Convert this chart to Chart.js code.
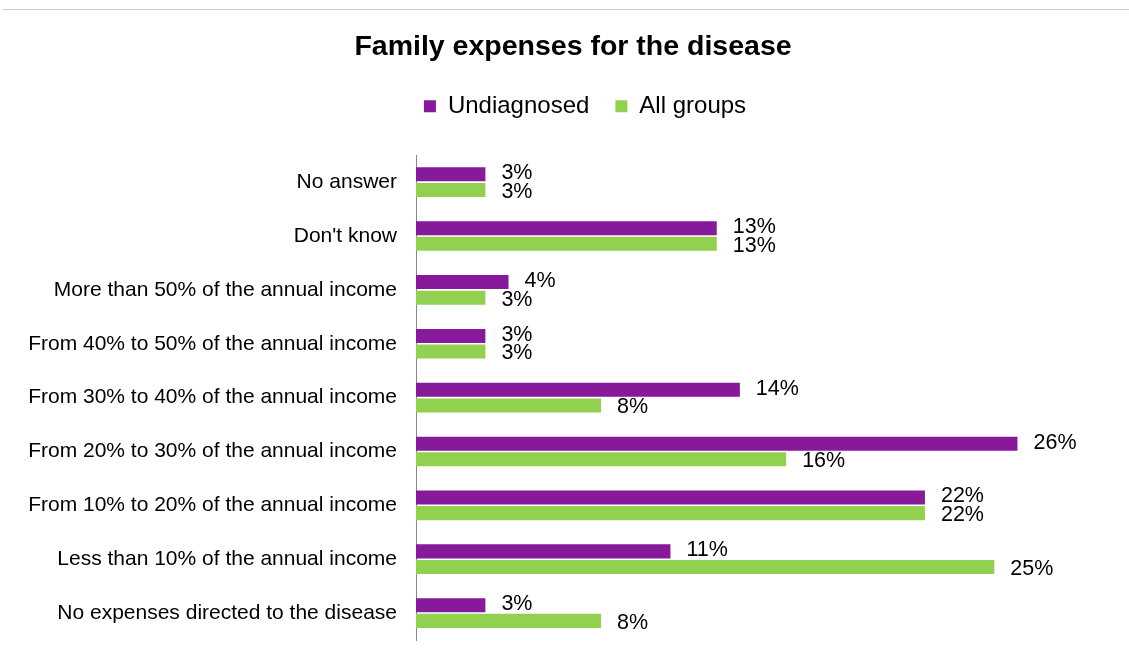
<!DOCTYPE html>
<html>
<head>
<meta charset="utf-8">
<script src="https://cdn.jsdelivr.net/npm/chart.js@4.4.1/dist/chart.umd.min.js"></script>
<style>
html,body{margin:0;padding:0;background:#fff;}
#wrap{width:1129px;height:666px;}
</style>
</head>
<body>
<div id="wrap"><canvas id="c" width="1129" height="666"></canvas></div>
<script>
const categories = [
  "No answer",
  "Don't know",
  "More than 50% of the annual income",
  "From 40% to 50% of the annual income",
  "From 30% to 40% of the annual income",
  "From 20% to 30% of the annual income",
  "From 10% to 20% of the annual income",
  "Less than 10% of the annual income",
  "No expenses directed to the disease"
];
const undiagnosed = [3, 13, 4, 3, 14, 26, 22, 11, 3];
const allGroups = [3, 13, 3, 3, 8, 16, 22, 25, 8];
const seriesNames = ["Undiagnosed", "All groups"];

const FONT = "'Liberation Sans', Arial, sans-serif";

const topLine = {
  id: 'topLine',
  beforeDraw(chart) {
    const ctx = chart.ctx;
    ctx.save();
    ctx.strokeStyle = '#d3c3d6';
    ctx.lineWidth = 1;
    ctx.beginPath();
    ctx.moveTo(3, 9.5);
    ctx.lineTo(chart.width, 9.5);
    ctx.stroke();
    ctx.restore();
  }
};

const legendMargin = {
  id: 'legendMargin',
  beforeInit(chart) {
    const origFit = chart.legend.fit;
    chart.legend.fit = function () {
      origFit.bind(chart.legend)();
      this.height += 27;
    };
  },
  afterLayout(chart) {
    if (chart.titleBlock) chart.titleBlock.left += 26;
    if (chart.legend) {
      chart.legend.left += 25;
      chart.legend.right += 25;
    }
  }
};

const valueLabels = {
  id: 'valueLabels',
  afterDatasetsDraw(chart) {
    const ctx = chart.ctx;
    ctx.save();
    ctx.font = "21.5px " + FONT;
    ctx.fillStyle = '#000';
    ctx.textAlign = 'left';
    ctx.textBaseline = 'middle';
    chart.data.datasets.forEach((ds, di) => {
      const meta = chart.getDatasetMeta(di);
      meta.data.forEach((bar, i) => {
        const yOff = di === 0 ? -1 : 2;
        ctx.fillText(ds.data[i] + '%', bar.x + 16, bar.y + yOff);
      });
    });
    ctx.restore();
  }
};

new Chart(document.getElementById('c'), {
  type: 'bar',
  data: {
    labels: categories,
    datasets: [
      { label: seriesNames[0], data: undiagnosed, backgroundColor: '#861a9a' },
      { label: seriesNames[1], data: allGroups, backgroundColor: '#92d050' }
    ]
  },
  options: {
    indexAxis: 'y',
    responsive: false,
    animation: false,
    devicePixelRatio: 1,
    categoryPercentage: 0.58,
    barPercentage: 0.9,
    layout: { padding: { top: 30, right: 19, bottom: 26, left: 10 } },
    plugins: {
      title: {
        display: true,
        text: 'Family expenses for the disease',
        color: '#000',
        font: { family: FONT, size: 28.5, weight: 'bold' },
        padding: { top: 0, bottom: 4 }
      },
      legend: {
        display: true,
        position: 'top',
        labels: {
          color: '#000',
          font: { family: FONT, size: 24 },
          boxWidth: 12,
          boxHeight: 12,
          padding: 26
        }
      },
      tooltip: { enabled: false }
    },
    scales: {
      x: {
        display: false,
        min: 0,
        max: 30
      },
      y: {
        afterFit(scale) {
          scale.width = 406;
          scale.paddingTop = 0;
          scale.paddingBottom = 0;
        },
        grid: { display: false, drawTicks: false },
        border: { display: true, color: '#888' },
        ticks: {
          color: '#000',
          font: { family: FONT, size: 21 },
          padding: 19,
          autoSkip: false
        }
      }
    }
  },
  plugins: [topLine, legendMargin, valueLabels]
});
</script>
</body>
</html>
